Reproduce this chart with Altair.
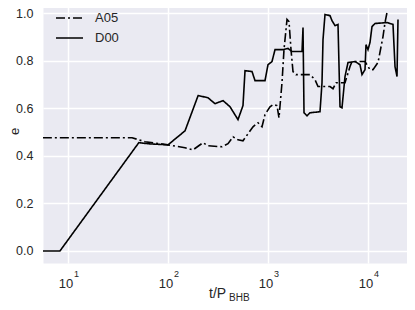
import altair as alt
import pandas as pd

# ---- data ----
series = ["A05", "D00"]

t_A05 = [5.6, 43.7, 58.9, 100, 148, 178, 224, 251, 347, 398,
         447, 501, 562, 708, 794, 871, 933, 1047, 1122, 1230,
         1288, 1380, 1445, 1549, 1622, 1698, 1778, 1905, 2630, 2951,
         3162, 4169, 4467, 4786, 5888, 6607, 6918, 9333, 10471, 11220,
         12589, 14125, 14791, 15488]
e_A05 = [0.476, 0.476, 0.459, 0.446, 0.434, 0.425, 0.455, 0.442, 0.438, 0.451,
         0.480, 0.467, 0.463, 0.522, 0.539, 0.522, 0.573, 0.606, 0.615, 0.611,
         0.560, 0.707, 0.846, 0.973, 0.964, 0.846, 0.754, 0.741, 0.741, 0.720,
         0.691, 0.691, 0.682, 0.707, 0.707, 0.775, 0.796, 0.796, 0.762, 0.762,
         0.792, 0.901, 0.960, 1.002]

t_D00 = [5.6, 8.3, 51, 66, 100, 148, 200, 251, 295, 355,
         417, 501, 562, 589, 692, 741, 933, 1000, 1096, 1175,
         1413, 1585, 1738, 2188, 2239, 2291, 2455, 2630, 3311, 3467,
         3548, 3715, 4169, 4365, 4677, 5012, 5248, 5495, 5888, 6310,
         7413, 8318, 8710, 9333, 9550, 10000, 10471, 10965, 11749, 15488,
         17783, 18621, 19498, 19953]
e_D00 = [0.0, 0.0, 0.455, 0.450, 0.446, 0.505, 0.653, 0.644, 0.619, 0.632,
         0.606, 0.552, 0.611, 0.758, 0.754, 0.716, 0.716, 0.783, 0.796, 0.846,
         0.846, 0.851, 0.838, 0.838, 0.939, 0.581, 0.568, 0.581, 0.585, 0.707,
         0.888, 0.994, 0.989, 0.968, 0.947, 0.952, 0.606, 0.602, 0.733, 0.792,
         0.796, 0.783, 0.741, 0.762, 0.867, 0.846, 0.876, 0.943, 0.956, 0.960,
         0.952, 0.775, 0.733, 0.973]

x_ticks = [10, 100, 1000, 10000]
x_exponents = ["1", "2", "3", "4"]
y_ticks = [0.0, 0.2, 0.4, 0.6, 0.8, 1.0]

FONT = "Liberation Sans"
TXT = "#262626"

df = pd.concat([
    pd.DataFrame({"t": t_A05, "e": e_A05, "series": "A05"}),
    pd.DataFrame({"t": t_D00, "e": e_D00, "series": "D00"}),
], ignore_index=True)

xscale = alt.Scale(type="log", domain=[5.62, 24547], nice=False)
yscale = alt.Scale(domain=[-0.0505, 1.0379], nice=False, zero=False)

lines = alt.Chart(df).mark_line(color="black", strokeWidth=1.6, clip=True).encode(
    x=alt.X("t:Q", scale=xscale,
            axis=alt.Axis(values=x_ticks, labels=False, title=None)),
    y=alt.Y("e:Q", scale=yscale,
            axis=alt.Axis(values=y_ticks, format=".1f", title="e",
                          labelPadding=10, labelFontSize=12.5,
                          titleAngle=270, titleX=-29, titleY=127,
                          titleAlign="center", titleBaseline="middle",
                          titleFontSize=13, titleFontWeight="normal")),
    strokeDash=alt.StrokeDash(
        "series:N",
        scale=alt.Scale(domain=series, range=[[9, 3, 2, 3], [1, 0]]),
        legend=alt.Legend(title=None, orient="none", legendX=12, legendY=4,
                          symbolType="stroke", symbolSize=729,
                          symbolStrokeWidth=1.6, symbolStrokeColor="black",
                          labelFontSize=13, labelFont=FONT, labelColor=TXT,
                          labelOffset=11, clipHeight=20, rowPadding=0,
                          padding=0)),
)

tick_df = pd.DataFrame({"t": x_ticks, "base": ["10"] * 4, "exp": x_exponents})

tick_base = alt.Chart(tick_df).mark_text(
    font=FONT, fontSize=13, color=TXT, align="center", baseline="alphabetic", dx=-2
).encode(x=alt.X("t:Q", scale=xscale), y=alt.value(284), text="base:N")

tick_exp = alt.Chart(tick_df).mark_text(
    font=FONT, fontSize=9, color=TXT, align="left", baseline="alphabetic", dx=6
).encode(x=alt.X("t:Q", scale=xscale), y=alt.value(273), text="exp:N")

title_df = pd.DataFrame({"main": ["t/P"], "sub": ["BHB"]})
title_main = alt.Chart(title_df).mark_text(
    font=FONT, fontSize=14, color=TXT, align="left", baseline="alphabetic"
).encode(x=alt.value(166), y=alt.value(294), text="main:N")
title_sub = alt.Chart(title_df).mark_text(
    font=FONT, fontSize=10, color=TXT, align="left", baseline="alphabetic"
).encode(x=alt.value(186), y=alt.value(297), text="sub:N")

chart = alt.layer(lines, tick_base, tick_exp, title_main, title_sub).properties(
    width=364, height=259,
    autosize=alt.AutoSizeParams(type="none"),
    padding={"left": 35, "top": -4, "right": 0, "bottom": 39},
    background="white",
).configure_view(
    fill="#EAEAF2", stroke="transparent"
).configure_axis(
    domain=False, ticks=False, grid=True, gridColor="white", gridWidth=1.5,
    labelFont=FONT, labelColor=TXT, titleFont=FONT, titleColor=TXT,
)

chart.save("out.html", embed_options={"renderer": "svg", "actions": False})
